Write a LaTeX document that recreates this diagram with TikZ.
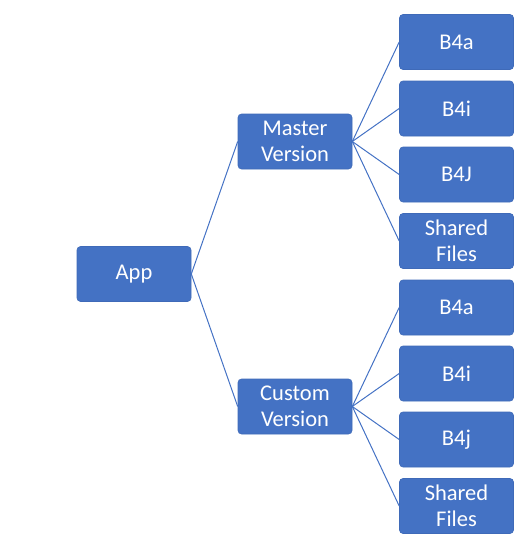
\documentclass[tikz,border=0pt]{standalone}
\usepackage{fontspec}
\setmainfont{Carlito}
\definecolor{boxblue}{HTML}{4472C4}
\definecolor{boxedge}{HTML}{3F6AB8}
\begin{document}
\begin{tikzpicture}[x=1pt,y=-1pt,
  bx/.style={fill=boxblue,draw=boxedge,line width=0.6pt,rounded corners=3.5pt,minimum width=114pt,minimum height=55pt,inner sep=0pt,align=center,text=white,font=\fontsize{22.5}{25.5}\selectfont},
  ln/.style={draw=boxblue,line width=1pt}]
\useasboundingbox (0,0) rectangle (530,543);
\node[bx] (app) at (134,274) {App};
\node[bx] (mv) at (295,141.5) {Master\\Version};
\node[bx] (cv) at (295,406.5) {Custom\\Version};
\node[bx] (m1) at (456.5,42) {B4a};
\node[bx] (m2) at (456.5,108.5) {B4i};
\node[bx] (m3) at (456.5,174.5) {B4J};
\node[bx] (m4) at (456.5,241) {Shared\\Files};
\node[bx] (c1) at (456.5,307.5) {B4a};
\node[bx] (c2) at (456.5,373.5) {B4i};
\node[bx] (c3) at (456.5,439.5) {B4j};
\node[bx] (c4) at (456.5,506) {Shared\\Files};
\draw[ln] (app.east) -- (mv.west);
\draw[ln] (app.east) -- (cv.west);
\foreach \n in {m1,m2,m3,m4}{\draw[ln] (mv.east) -- (\n.west);}
\foreach \n in {c1,c2,c3,c4}{\draw[ln] (cv.east) -- (\n.west);}
\end{tikzpicture}
\end{document}
